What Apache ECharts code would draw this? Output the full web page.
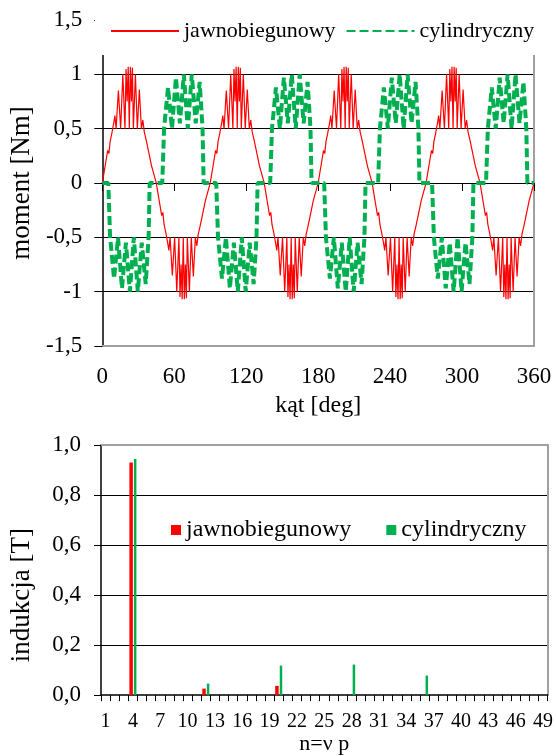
<!DOCTYPE html>
<html>
<head>
<meta charset="utf-8">
<script src="https://cdn.jsdelivr.net/npm/echarts@6/dist/echarts.min.js"></script>
<style>
html, body { margin: 0; padding: 0; background: #fff; }
#chart { width: 556px; height: 756px; }
</style>
</head>
<body>
<div id="chart"></div>
<script>
// moment vs angle: [angle deg, moment Nm]
var jawnoMoment = [
    [0,0],[1.5,0.1],[3,0.2],[4.5,0.3],[5.5,0.27],[6.5,0.38],[8,0.46],[9.5,0.55],[10.5,0.62],[11.5,0.5],[13.4,0.85],[15.3,0.5],[17.1,1],[18.9,0.5],[19.8,1.05],[20.7,0.75],[21.6,1.07],[22.5,0.5],[23.4,1.07],[24.3,0.75],[25.1,1.06],[25.9,0.5],[27.6,1],[29.2,0.5],[30.9,0.86],[32.6,0.5],[33.8,0.58],[35,0.47],[36.5,0.4],[38,0.32],[39.5,0.24],[41,0.16],[42.5,0.1],[44,0.04],
    [45,0],[46.5,-0.1],[48,-0.2],[49.5,-0.3],[50.5,-0.27],[51.5,-0.38],[53,-0.46],[54.5,-0.55],[55.5,-0.62],[56.5,-0.5],[58.4,-0.85],[60.3,-0.5],[62.1,-1],[63.9,-0.5],[64.8,-1.05],[65.7,-0.75],[66.6,-1.07],[67.5,-0.5],[68.4,-1.07],[69.3,-0.75],[70.1,-1.06],[70.9,-0.5],[72.6,-1],[74.2,-0.5],[75.9,-0.86],[77.6,-0.5],[78.8,-0.58],[80,-0.47],[81.5,-0.4],[83,-0.32],[84.5,-0.24],[86,-0.16],[87.5,-0.1],[89,-0.04],
    [90,0],[91.5,0.1],[93,0.2],[94.5,0.3],[95.5,0.27],[96.5,0.38],[98,0.46],[99.5,0.55],[100.5,0.62],[101.5,0.5],[103.4,0.85],[105.3,0.5],[107.1,1],[108.9,0.5],[109.8,1.05],[110.7,0.75],[111.6,1.07],[112.5,0.5],[113.4,1.07],[114.3,0.75],[115.1,1.06],[115.9,0.5],[117.6,1],[119.2,0.5],[120.9,0.86],[122.6,0.5],[123.8,0.58],[125,0.47],[126.5,0.4],[128,0.32],[129.5,0.24],[131,0.16],[132.5,0.1],[134,0.04],
    [135,0],[136.5,-0.1],[138,-0.2],[139.5,-0.3],[140.5,-0.27],[141.5,-0.38],[143,-0.46],[144.5,-0.55],[145.5,-0.62],[146.5,-0.5],[148.4,-0.85],[150.3,-0.5],[152.1,-1],[153.9,-0.5],[154.8,-1.05],[155.7,-0.75],[156.6,-1.07],[157.5,-0.5],[158.4,-1.07],[159.3,-0.75],[160.1,-1.06],[160.9,-0.5],[162.6,-1],[164.2,-0.5],[165.9,-0.86],[167.6,-0.5],[168.8,-0.58],[170,-0.47],[171.5,-0.4],[173,-0.32],[174.5,-0.24],[176,-0.16],[177.5,-0.1],[179,-0.04],
    [180,0],[181.5,0.1],[183,0.2],[184.5,0.3],[185.5,0.27],[186.5,0.38],[188,0.46],[189.5,0.55],[190.5,0.62],[191.5,0.5],[193.4,0.85],[195.3,0.5],[197.1,1],[198.9,0.5],[199.8,1.05],[200.7,0.75],[201.6,1.07],[202.5,0.5],[203.4,1.07],[204.3,0.75],[205.1,1.06],[205.9,0.5],[207.6,1],[209.2,0.5],[210.9,0.86],[212.6,0.5],[213.8,0.58],[215,0.47],[216.5,0.4],[218,0.32],[219.5,0.24],[221,0.16],[222.5,0.1],[224,0.04],
    [225,0],[226.5,-0.1],[228,-0.2],[229.5,-0.3],[230.5,-0.27],[231.5,-0.38],[233,-0.46],[234.5,-0.55],[235.5,-0.62],[236.5,-0.5],[238.4,-0.85],[240.3,-0.5],[242.1,-1],[243.9,-0.5],[244.8,-1.05],[245.7,-0.75],[246.6,-1.07],[247.5,-0.5],[248.4,-1.07],[249.3,-0.75],[250.1,-1.06],[250.9,-0.5],[252.6,-1],[254.2,-0.5],[255.9,-0.86],[257.6,-0.5],[258.8,-0.58],[260,-0.47],[261.5,-0.4],[263,-0.32],[264.5,-0.24],[266,-0.16],[267.5,-0.1],[269,-0.04],
    [270,0],[271.5,0.1],[273,0.2],[274.5,0.3],[275.5,0.27],[276.5,0.38],[278,0.46],[279.5,0.55],[280.5,0.62],[281.5,0.5],[283.4,0.85],[285.3,0.5],[287.1,1],[288.9,0.5],[289.8,1.05],[290.7,0.75],[291.6,1.07],[292.5,0.5],[293.4,1.07],[294.3,0.75],[295.1,1.06],[295.9,0.5],[297.6,1],[299.2,0.5],[300.9,0.86],[302.6,0.5],[303.8,0.58],[305,0.47],[306.5,0.4],[308,0.32],[309.5,0.24],[311,0.16],[312.5,0.1],[314,0.04],
    [315,0],[316.5,-0.1],[318,-0.2],[319.5,-0.3],[320.5,-0.27],[321.5,-0.38],[323,-0.46],[324.5,-0.55],[325.5,-0.62],[326.5,-0.5],[328.4,-0.85],[330.3,-0.5],[332.1,-1],[333.9,-0.5],[334.8,-1.05],[335.7,-0.75],[336.6,-1.07],[337.5,-0.5],[338.4,-1.07],[339.3,-0.75],[340.1,-1.06],[340.9,-0.5],[342.6,-1],[344.2,-0.5],[345.9,-0.86],[347.6,-0.5],[348.8,-0.58],[350,-0.47],[351.5,-0.4],[353,-0.32],[354.5,-0.24],[356,-0.16],[357.5,-0.1],[359,-0.04],[360,0]
];

var cylMoment = [
    [0,0],[5,0],[6.5,-0.5],[9.8,-0.88],[13.1,-0.5],[16.4,-0.97],[19.7,-0.55],[23,-1],[26.3,-0.5],[29.6,-1],[32.9,-0.55],[36.2,-0.93],[38.6,-0.5],[39.5,0],
    [50,0],[51.5,0.5],[54.8,0.88],[58.1,0.5],[61.4,0.97],[64.7,0.55],[68,1],[71.3,0.5],[74.6,1],[77.9,0.55],[81.2,0.93],[83.6,0.5],[84.5,0],
    [95,0],[96.5,-0.5],[99.8,-0.88],[103.1,-0.5],[106.4,-0.97],[109.7,-0.55],[113,-1],[116.3,-0.5],[119.6,-1],[122.9,-0.55],[126.2,-0.93],[128.6,-0.5],[129.5,0],
    [140,0],[141.5,0.5],[144.8,0.88],[148.1,0.5],[151.4,0.97],[154.7,0.55],[158,1],[161.3,0.5],[164.6,1],[167.9,0.55],[171.2,0.93],[173.6,0.5],[174.5,0],
    [185,0],[186.5,-0.5],[189.8,-0.88],[193.1,-0.5],[196.4,-0.97],[199.7,-0.55],[203,-1],[206.3,-0.5],[209.6,-1],[212.9,-0.55],[216.2,-0.93],[218.6,-0.5],[219.5,0],
    [230,0],[231.5,0.5],[234.8,0.88],[238.1,0.5],[241.4,0.97],[244.7,0.55],[248,1],[251.3,0.5],[254.6,1],[257.9,0.55],[261.2,0.93],[263.6,0.5],[264.5,0],
    [275,0],[276.5,-0.5],[279.8,-0.88],[283.1,-0.5],[286.4,-0.97],[289.7,-0.55],[293,-1],[296.3,-0.5],[299.6,-1],[302.9,-0.55],[306.2,-0.93],[308.6,-0.5],[309.5,0],
    [320,0],[321.5,0.5],[324.8,0.88],[328.1,0.5],[331.4,0.97],[334.7,0.55],[338,1],[341.3,0.5],[344.6,1],[347.9,0.55],[351.2,0.93],[353.6,0.5],[354.5,0],[360,0]
];

// harmonic spectrum
var harmonics = ['1','2','3','4','5','6','7','8','9','10','11','12','13','14','15','16','17','18','19','20',
    '21','22','23','24','25','26','27','28','29','30','31','32','33','34','35','36','37','38','39','40',
    '41','42','43','44','45','46','47','48','49'];
var jawnoInduction = [0,0,0,0.93,0,0,0,0,0,0,0,0.026,0,0,0,0,0,0,0,0.037,
    0,0,0,0,0,0,0,0,0,0,0,0,0,0,0,0,0,0,0,0,
    0,0,0,0,0,0,0,0,0];
var cylInduction = [0,0,0,0.944,0,0,0,0,0,0,0,0.046,0,0,0,0,0,0,0,0.118,
    0,0,0,0,0,0,0,0.122,0,0,0,0,0,0,0,0.078,0,0,0,0,
    0,0,0,0,0,0,0,0,0];

var RED = '#ff0000';
var GREEN = '#00b050';
var BORDER = '#a0a0a0';
var FONT = 'Liberation Serif';

function comma(v) {
    return String(v).replace('.', ',');
}

var chart = echarts.init(document.getElementById('chart'));
var option = {
    animation: false,
    backgroundColor: '#fff',
    textStyle: { fontFamily: FONT, color: '#000' },
    grid: [
        { left: 96, top: 20, width: 438, height: 326 },
        { left: 100, top: 445, right: 8, height: 255 }
    ],
    legend: [
        {
            data: ['jawnobiegunowy', 'cylindryczny'],
            left: 95,
            top: 19,
            padding: [1, 8, 13, 15],
            backgroundColor: '#fff',
            itemWidth: 68,
            itemHeight: 14,
            itemGap: 10,
            itemStyle: { opacity: 0 },
            textStyle: { fontFamily: FONT, fontSize: 22, color: '#000' }
        },
        {
            data: ['jawnobiegunowy-widmo', 'cylindryczny-widmo'],
            formatter: function (name) { return name.split('-')[0]; },
            left: 166,
            top: 513,
            icon: 'rect',
            itemWidth: 10,
            itemHeight: 10,
            itemGap: 35,
            textStyle: { fontFamily: FONT, fontSize: 24, color: '#000' }
        }
    ],
    xAxis: [
        {
            gridIndex: 0,
            type: 'value',
            min: 0,
            max: 360,
            interval: 60,
            position: 'bottom',
            axisLine: { onZero: false, lineStyle: { color: BORDER, width: 2 } },
            axisTick: { show: false },
            axisLabel: { fontSize: 23, margin: 19, color: '#000', fontFamily: FONT },
            splitLine: { show: false },
            name: 'kąt [deg]',
            nameLocation: 'middle',
            nameGap: 48,
            nameTextStyle: { fontSize: 24, color: '#000', fontFamily: FONT }
        },
        {
            gridIndex: 0,
            type: 'value',
            min: 0,
            max: 360,
            interval: 60,
            position: 'bottom',
            axisLine: { onZero: true, lineStyle: { color: '#000', width: 1 } },
            axisTick: { show: true, length: 8, lineStyle: { color: '#000' } },
            axisLabel: { show: false },
            splitLine: { show: false }
        },
        {
            gridIndex: 1,
            type: 'category',
            data: harmonics,
            position: 'bottom',
            axisLine: { onZero: false, lineStyle: { color: '#000', width: 1.5 } },
            axisTick: { show: true, interval: 0, length: 6, lineStyle: { color: '#000' } },
            axisLabel: { interval: 2, fontSize: 20, margin: 17, color: '#000', fontFamily: FONT },
            name: 'n=ν p',
            nameLocation: 'middle',
            nameGap: 35,
            nameTextStyle: { fontSize: 22, color: '#000', fontFamily: FONT }
        },
        {
            gridIndex: 1,
            type: 'category',
            data: harmonics,
            position: 'top',
            axisLine: { onZero: false, lineStyle: { color: BORDER, width: 2 } },
            axisTick: { show: false },
            axisLabel: { show: false }
        }
    ],
    yAxis: [
        {
            gridIndex: 0,
            type: 'value',
            min: -1.5,
            max: 1.5,
            interval: 0.5,
            axisLine: { show: true, onZero: false, lineStyle: { color: '#000', width: 1.5 } },
            axisTick: { show: true, length: 8, lineStyle: { color: '#000' } },
            axisLabel: { fontSize: 23, margin: 20, color: '#000', fontFamily: FONT, formatter: comma },
            splitLine: { show: true, showMinLine: false, showMaxLine: false, lineStyle: { color: '#000', width: 1 } },
            name: 'moment [Nm]',
            nameLocation: 'middle',
            nameRotate: 90,
            nameGap: 62,
            nameTextStyle: { fontSize: 27, color: '#000', fontFamily: FONT }
        },
        {
            gridIndex: 0,
            type: 'value',
            min: -1.5,
            max: 1.5,
            interval: 0.5,
            position: 'right',
            axisLine: { show: true, onZero: false, lineStyle: { color: BORDER, width: 2 } },
            axisTick: { show: false },
            axisLabel: { show: false },
            splitLine: { show: false }
        },
        {
            gridIndex: 1,
            type: 'value',
            min: 0,
            max: 1,
            interval: 0.2,
            axisLine: { show: true, onZero: false, lineStyle: { color: '#000', width: 1.5 } },
            axisTick: { show: true, length: 7, lineStyle: { color: '#000' } },
            axisLabel: {
                fontSize: 23, margin: 20, color: '#000', fontFamily: FONT,
                formatter: function (v) { return v.toFixed(1).replace('.', ','); }
            },
            splitLine: { show: true, showMinLine: false, showMaxLine: false, lineStyle: { color: '#000', width: 1 } },
            name: 'indukcja [T]',
            nameLocation: 'middle',
            nameRotate: 90,
            nameGap: 66,
            nameTextStyle: { fontSize: 27, color: '#000', fontFamily: FONT, padding: [0, 50, 0, 0] }
        },
        {
            gridIndex: 1,
            type: 'value',
            min: 0,
            max: 1,
            interval: 0.2,
            position: 'right',
            axisLine: { show: true, onZero: false, lineStyle: { color: BORDER, width: 2 } },
            axisTick: { show: false },
            axisLabel: { show: false },
            splitLine: { show: false }
        }
    ],
    series: [
        {
            name: 'jawnobiegunowy',
            type: 'line',
            xAxisIndex: 0,
            yAxisIndex: 0,
            data: jawnoMoment,
            symbol: 'none',
            color: RED,
            lineStyle: { color: RED, width: 1.2 }
        },
        {
            name: 'cylindryczny',
            type: 'line',
            xAxisIndex: 0,
            yAxisIndex: 0,
            data: cylMoment,
            symbol: 'none',
            color: GREEN,
            lineStyle: { color: GREEN, width: 4, type: [9, 4] }
        },
        {
            name: 'jawnobiegunowy-widmo',
            type: 'bar',
            xAxisIndex: 2,
            yAxisIndex: 2,
            data: jawnoInduction,
            barWidth: 3.5,
            itemStyle: { color: RED }
        },
        {
            name: 'cylindryczny-widmo',
            type: 'bar',
            xAxisIndex: 2,
            yAxisIndex: 2,
            data: cylInduction,
            barWidth: 2.5,
            barGap: '30%',
            itemStyle: { color: GREEN }
        }
    ]
};
chart.setOption(option);
</script>
</body>
</html>
